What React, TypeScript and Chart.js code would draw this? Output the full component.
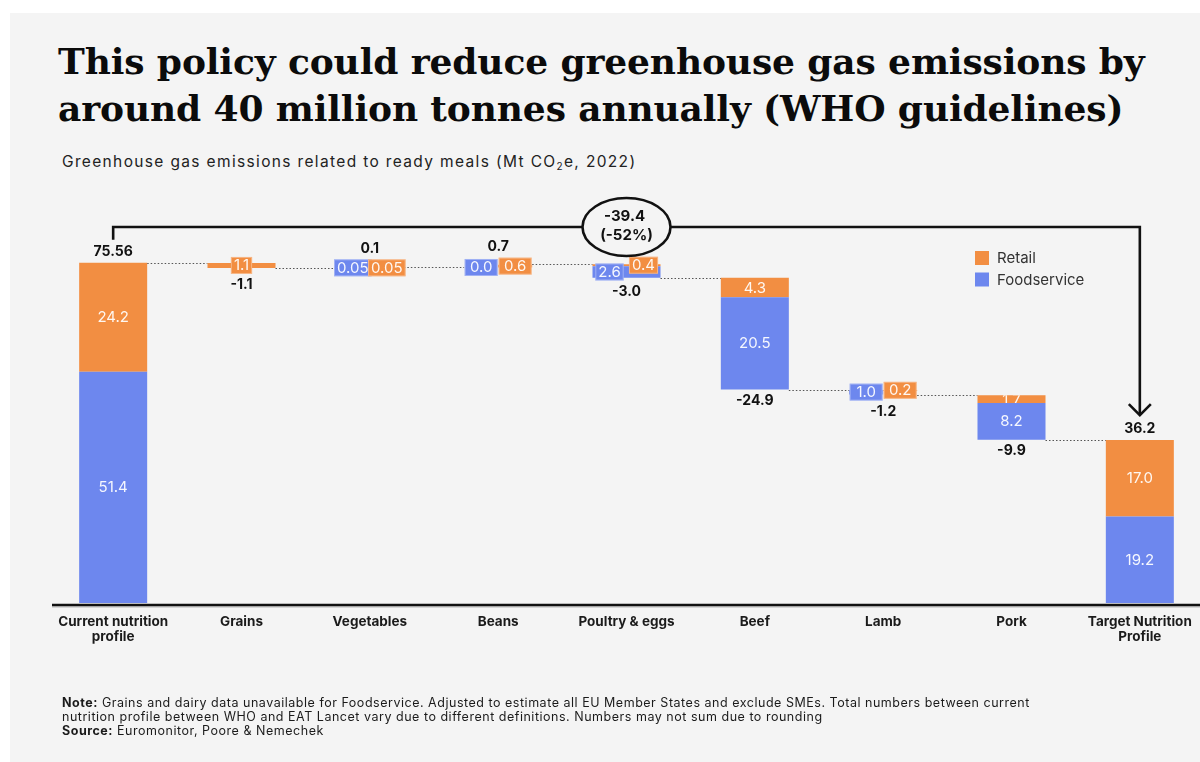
import React, { useEffect, useRef } from "react";
import { Chart, registerables } from "chart.js";

Chart.register(...registerables);

// ---------------- data ----------------
const categories: (string | string[])[] = [
  ["Current nutrition", "profile"],
  "Grains",
  "Vegetables",
  "Beans",
  "Poultry & eggs",
  "Beef",
  "Lamb",
  "Pork",
  ["Target Nutrition", "Profile"],
];
const retail: number[] = [24.2, 1.1, 0.05, 0.6, 0.4, 4.3, 0.2, 1.7, 17.0];
const foodservice: (number | null)[] = [51.4, null, 0.05, 0.0, 2.6, 20.5, 1.0, 8.2, 19.2];
const changes: number[] = [75.56, -1.1, 0.1, 0.7, -3.0, -24.9, -1.2, -9.9, 36.2];
const totalLabels: string[] = ["75.56", "-1.1", "0.1", "0.7", "-3.0", "-24.9", "-1.2", "-9.9", "36.2"];
const kinds: string[] = ["total", "change", "change", "change", "change", "change", "change", "change", "total"];
const sideBySide: boolean[] = [false, false, true, true, false, false, true, false, false];

const ORANGE = "#f28e42";
const BLUE = "#6d87ee";
const BG = "#f4f4f4";
const FONT = "Inter, 'Noto Sans', sans-serif";

type Bar = [number, number] | null;

function buildBars() {
  const fsFull: Bar[] = [];
  const rtFull: Bar[] = [];
  const fsSplit: Bar[] = [];
  const rtSplit: Bar[] = [];
  const levelsAfter: number[] = [];
  let level = 0;
  for (let i = 0; i < categories.length; i++) {
    const f = foodservice[i];
    const r = retail[i];
    let fsBar: Bar = null;
    let rtBar: Bar = null;
    if (kinds[i] === "total") {
      const ff = f ?? 0;
      fsBar = [0, ff];
      rtBar = [ff, ff + r];
      level = changes[i];
    } else if (changes[i] < 0) {
      if (sideBySide[i]) {
        fsBar = f == null ? null : [level - f, level];
        rtBar = [level - r, level];
      } else {
        rtBar = [level - r, level];
        fsBar = f == null ? null : [level - r - f, level - r];
      }
      level += changes[i];
    } else {
      const ff = f ?? 0;
      if (sideBySide[i]) {
        fsBar = f == null ? null : [level, level + ff];
        rtBar = [level, level + r];
      } else {
        fsBar = f == null ? null : [level, level + ff];
        rtBar = [level + ff, level + ff + r];
      }
      level += changes[i];
    }
    levelsAfter.push(level);
    if (sideBySide[i]) {
      fsSplit.push(fsBar);
      rtSplit.push(rtBar);
      fsFull.push(null);
      rtFull.push(null);
    } else {
      fsFull.push(fsBar);
      rtFull.push(rtBar);
      fsSplit.push(null);
      rtSplit.push(null);
    }
  }
  return { fsFull, rtFull, fsSplit, rtSplit, levelsAfter };
}

function fmt(v: number) {
  if (v > 0 && v < 0.1) return v.toFixed(2);
  return v.toFixed(1);
}

type Seg = {
  series: "fs" | "rt";
  x: number;
  top: number;
  bottom: number;
  w: number;
  color: string;
  text: string;
};

function getSegs(chart: any, j: number): Seg[] {
  const idx = sideBySide[j] ? [2, 3] : [0, 1];
  const segs: Seg[] = [];
  idx.forEach((di, k) => {
    const ds = chart.data.datasets[di];
    if (ds.data[j] == null) return;
    const el: any = chart.getDatasetMeta(di).data[j];
    if (!el) return;
    const p = el.getProps(["x", "y", "base", "width"], true);
    const isFs = k === 0;
    const v = isFs ? (foodservice[j] as number) : retail[j];
    segs.push({
      series: isFs ? "fs" : "rt",
      x: p.x,
      top: Math.min(p.y, p.base),
      bottom: Math.max(p.y, p.base),
      w: p.width,
      color: isFs ? BLUE : ORANGE,
      text: fmt(v),
    });
  });
  return segs;
}

const waterfallPlugin = (levelsAfter: number[]) => ({
  id: "waterfallDecor",
  beforeDatasetsDraw(chart: any) {
    const ctx = chart.ctx as CanvasRenderingContext2D;
    const y = chart.scales.y;
    const xs = chart.scales.x;
    const area = chart.chartArea;
    const step = xs.getPixelForValue(1) - xs.getPixelForValue(0);
    const axisStart = xs.getPixelForValue(0) - step / 2 + 3;
    ctx.save();
    // axis line
    ctx.strokeStyle = "#111";
    ctx.lineWidth = 2.5;
    ctx.beginPath();
    ctx.moveTo(axisStart, area.bottom + 2);
    ctx.lineTo(chart.width, area.bottom + 2);
    ctx.stroke();
    ctx.strokeStyle = "rgba(0,0,0,0.25)";
    ctx.lineWidth = 1;
    ctx.beginPath();
    ctx.moveTo(axisStart, area.bottom + 4);
    ctx.lineTo(chart.width, area.bottom + 4);
    ctx.stroke();

    ctx.strokeStyle = "#555";
    ctx.lineWidth = 1.2;
    ctx.setLineDash([1.5, 2]);
    for (let j = 0; j < categories.length - 1; j++) {
      const a = getSegs(chart, j);
      const b = getSegs(chart, j + 1);
      if (!a.length || !b.length) continue;
      const x1 = Math.max(...a.map((s) => s.x + s.w / 2));
      const x2 = Math.min(...b.map((s) => s.x - s.w / 2));
      const py = Math.round(y.getPixelForValue(levelsAfter[j])) + 0.5;
      ctx.beginPath();
      ctx.moveTo(x1, py);
      ctx.lineTo(x2, py);
      ctx.stroke();
    }
    ctx.restore();
  },
  afterDatasetsDraw(chart: any) {
    const ctx = chart.ctx as CanvasRenderingContext2D;
    const xs = chart.scales.x;
    const area = chart.chartArea;
    const labelY: number[] = [];
    ctx.save();
    ctx.textAlign = "center";
    ctx.textBaseline = "middle";
    for (let j = 0; j < categories.length; j++) {
      const segs = getSegs(chart, j);
      let minTop = Infinity;
      let maxBottom = -Infinity;
      const full = !sideBySide[j];
      const pair = full && segs.length === 2;
      const small = segs.map((s) => s.bottom - s.top < 16);
      segs.forEach((s, k) => {
        minTop = Math.min(minTop, s.top);
        maxBottom = Math.max(maxBottom, s.bottom);
        const cy = (s.top + s.bottom) / 2;
        ctx.font = `400 15px ${FONT}`;
        ctx.fillStyle = "rgba(255,255,255,0.93)";
        if (!small[k]) {
          ctx.fillText(s.text, s.x, cy + 0.5);
          return;
        }
        const other = small[1 - k];
        if (pair && other === false) {
          ctx.save();
          ctx.beginPath();
          ctx.rect(s.x - s.w / 2, s.top, s.w, s.bottom - s.top);
          ctx.clip();
          ctx.fillText(s.text, s.x, cy + 1);
          ctx.restore();
          return;
        }
        const shift = pair ? (s.series === "fs" ? -s.w / 4 : s.w / 4) : 0;
        const tw = ctx.measureText(s.text).width;
        const bw = sideBySide[j] ? Math.max(s.w - 1, tw + 6) : tw + 6;
        const bh = 17;
        const bx = s.x + shift - bw / 2;
        const by = cy - bh / 2;
        ctx.fillStyle = s.color;
        ctx.fillRect(bx, by, bw, bh);
        ctx.strokeStyle = "rgba(255,255,255,0.35)";
        ctx.lineWidth = 1;
        ctx.strokeRect(bx + 0.5, by + 0.5, bw - 1, bh - 1);
        ctx.fillStyle = "rgba(255,255,255,0.93)";
        ctx.fillText(s.text, s.x + shift, cy + 0.5);
        minTop = Math.min(minTop, by);
        maxBottom = Math.max(maxBottom, by + bh);
      });
      const cx = xs.getPixelForValue(j);
      const up = kinds[j] === "total" || changes[j] > 0;
      const ly = up ? minTop - 11 : maxBottom + 11;
      labelY.push(ly);
      ctx.font = `700 14px ${FONT}`;
      ctx.fillStyle = "#111";
      ctx.fillText(totalLabels[j], cx, ly);
    }
    ctx.restore();

    // bracket with arrow
    const x0 = xs.getPixelForValue(0);
    const x1 = xs.getPixelForValue(categories.length - 1);
    const yLine = area.top - 16;
    const yStart = labelY[0] - 12;
    const yTip = labelY[categories.length - 1] - 14;
    ctx.save();
    ctx.strokeStyle = "#111";
    ctx.lineWidth = 2.6;
    ctx.lineJoin = "miter";
    ctx.beginPath();
    ctx.moveTo(x0, yStart);
    ctx.lineTo(x0, yLine);
    ctx.lineTo(x1, yLine);
    ctx.lineTo(x1, yTip);
    ctx.stroke();
    ctx.beginPath();
    ctx.moveTo(x1 - 11, yTip - 11);
    ctx.lineTo(x1, yTip);
    ctx.lineTo(x1 + 11, yTip - 11);
    ctx.stroke();

    const ex = (x0 + x1) / 2;
    ctx.beginPath();
    ctx.ellipse(ex, yLine, 44, 29, 0, 0, Math.PI * 2);
    ctx.fillStyle = BG;
    ctx.fill();
    ctx.stroke();
    const start = changes[0];
    const end = changes[categories.length - 1];
    const diff = end - start;
    const pct = Math.round((diff / start) * 100);
    ctx.fillStyle = "#111";
    ctx.font = `700 15px ${FONT}`;
    ctx.textAlign = "center";
    ctx.textBaseline = "middle";
    ctx.fillText(diff.toFixed(1), ex - 2, yLine - 11);
    ctx.fillText(`(${pct}%)`, ex, yLine + 8);

    // legend
    const lx = area.right - 229;
    const lyTop = area.top + 8;
    const items = [
      { c: ORANGE, t: "Retail" },
      { c: BLUE, t: "Foodservice" },
    ];
    ctx.textAlign = "left";
    ctx.font = `400 15px ${FONT}`;
    items.forEach((it, k) => {
      const yy = lyTop + k * 21.5;
      ctx.fillStyle = it.c;
      ctx.fillRect(lx, yy, 14, 14);
      ctx.fillStyle = "#333";
      ctx.fillText(it.t, lx + 22, yy + 7.5);
    });
    ctx.restore();
  },
});

export default function App() {
  const ref = useRef<HTMLCanvasElement | null>(null);

  useEffect(() => {
    if (!ref.current) return;
    const { fsFull, rtFull, fsSplit, rtSplit, levelsAfter } = buildBars();
    const common = {
      skipNull: true,
      categoryPercentage: 0.53,
      barPercentage: 1,
      borderWidth: 0,
    };
    const chart = new Chart(ref.current, {
      type: "bar",
      data: {
        labels: categories,
        datasets: [
          { label: "Foodservice", data: fsFull as any, backgroundColor: BLUE, stack: "full", ...common },
          { label: "Retail", data: rtFull as any, backgroundColor: ORANGE, stack: "full", ...common },
          { label: "Foodservice ", data: fsSplit as any, backgroundColor: BLUE, stack: "fs", ...common },
          { label: "Retail ", data: rtSplit as any, backgroundColor: ORANGE, stack: "rt", ...common },
        ],
      },
      options: {
        animation: false,
        responsive: false,
        devicePixelRatio: 1,
        layout: { padding: { top: 243, left: 49, right: 0, bottom: 0 } },
        plugins: {
          legend: { display: false },
          tooltip: { enabled: false },
        },
        scales: {
          x: {
            grid: { display: false, drawTicks: false },
            border: { display: false },
            ticks: {
              color: "#1b1b1b",
              padding: 11,
              maxRotation: 0,
              autoSkip: false,
              font: { family: FONT, size: 13.5, weight: "bold", lineHeight: 1.12 },
            },
            afterFit: (scale: any) => {
              scale.height = 159;
            },
          },
          y: {
            display: false,
            stacked: false,
            min: 0,
            max: 80,
          },
        },
      },
      plugins: [waterfallPlugin(levelsAfter)],
    } as any);
    return () => chart.destroy();
  }, []);

  return (
    <div
      style={{
        position: "absolute",
        left: 0,
        top: 0,
        width: 1200,
        height: 762,
        overflow: "hidden",
        background: "#ffffff",
      }}
    >
      <div style={{ position: "absolute", left: 10, top: 13, right: 0, bottom: 0, background: BG }} />
      <div
        style={{
          position: "absolute",
          left: 58,
          top: 38,
          width: 1140,
          fontFamily: "'DejaVu Serif', serif",
          fontWeight: 700,
          fontSize: 36,
          lineHeight: "47px",
          letterSpacing: "-0.12px",
          color: "#0b0b0b",
          whiteSpace: "nowrap",
        }}
      >
        <div>This policy could reduce greenhouse gas emissions by</div>
        <div>around 40 million tonnes annually (WHO guidelines)</div>
      </div>
      <div
        style={{
          position: "absolute",
          left: 62,
          top: 152,
          fontFamily: FONT,
          fontSize: 15.5,
          lineHeight: "20px",
          letterSpacing: "1.35px",
          color: "#222",
          whiteSpace: "nowrap",
        }}
      >
        Greenhouse gas emissions related to ready meals (Mt CO
        <sub style={{ fontSize: 10, verticalAlign: "-3px", lineHeight: 0 }}>2</sub>e, 2022)
      </div>
      <canvas
        ref={ref}
        width={1204}
        height={762}
        style={{ position: "absolute", left: 0, top: 0, width: 1204, height: 762 }}
      />
      <div
        style={{
          position: "absolute",
          left: 62,
          top: 696,
          width: 1100,
          fontFamily: FONT,
          fontSize: 12.5,
          lineHeight: "14px",
          letterSpacing: "0.52px",
          color: "#1b1b1b",
          whiteSpace: "nowrap",
        }}
      >
        <div>
          <b>Note:</b> Grains and dairy data unavailable for Foodservice. Adjusted to estimate all EU Member States and
          exclude SMEs. Total numbers between current
        </div>
        <div>
          nutrition profile between WHO and EAT Lancet vary due to different definitions. Numbers may not sum due to
          rounding
        </div>
        <div>
          <b>Source:</b> Euromonitor, Poore &amp; Nemechek
        </div>
      </div>
    </div>
  );
}
